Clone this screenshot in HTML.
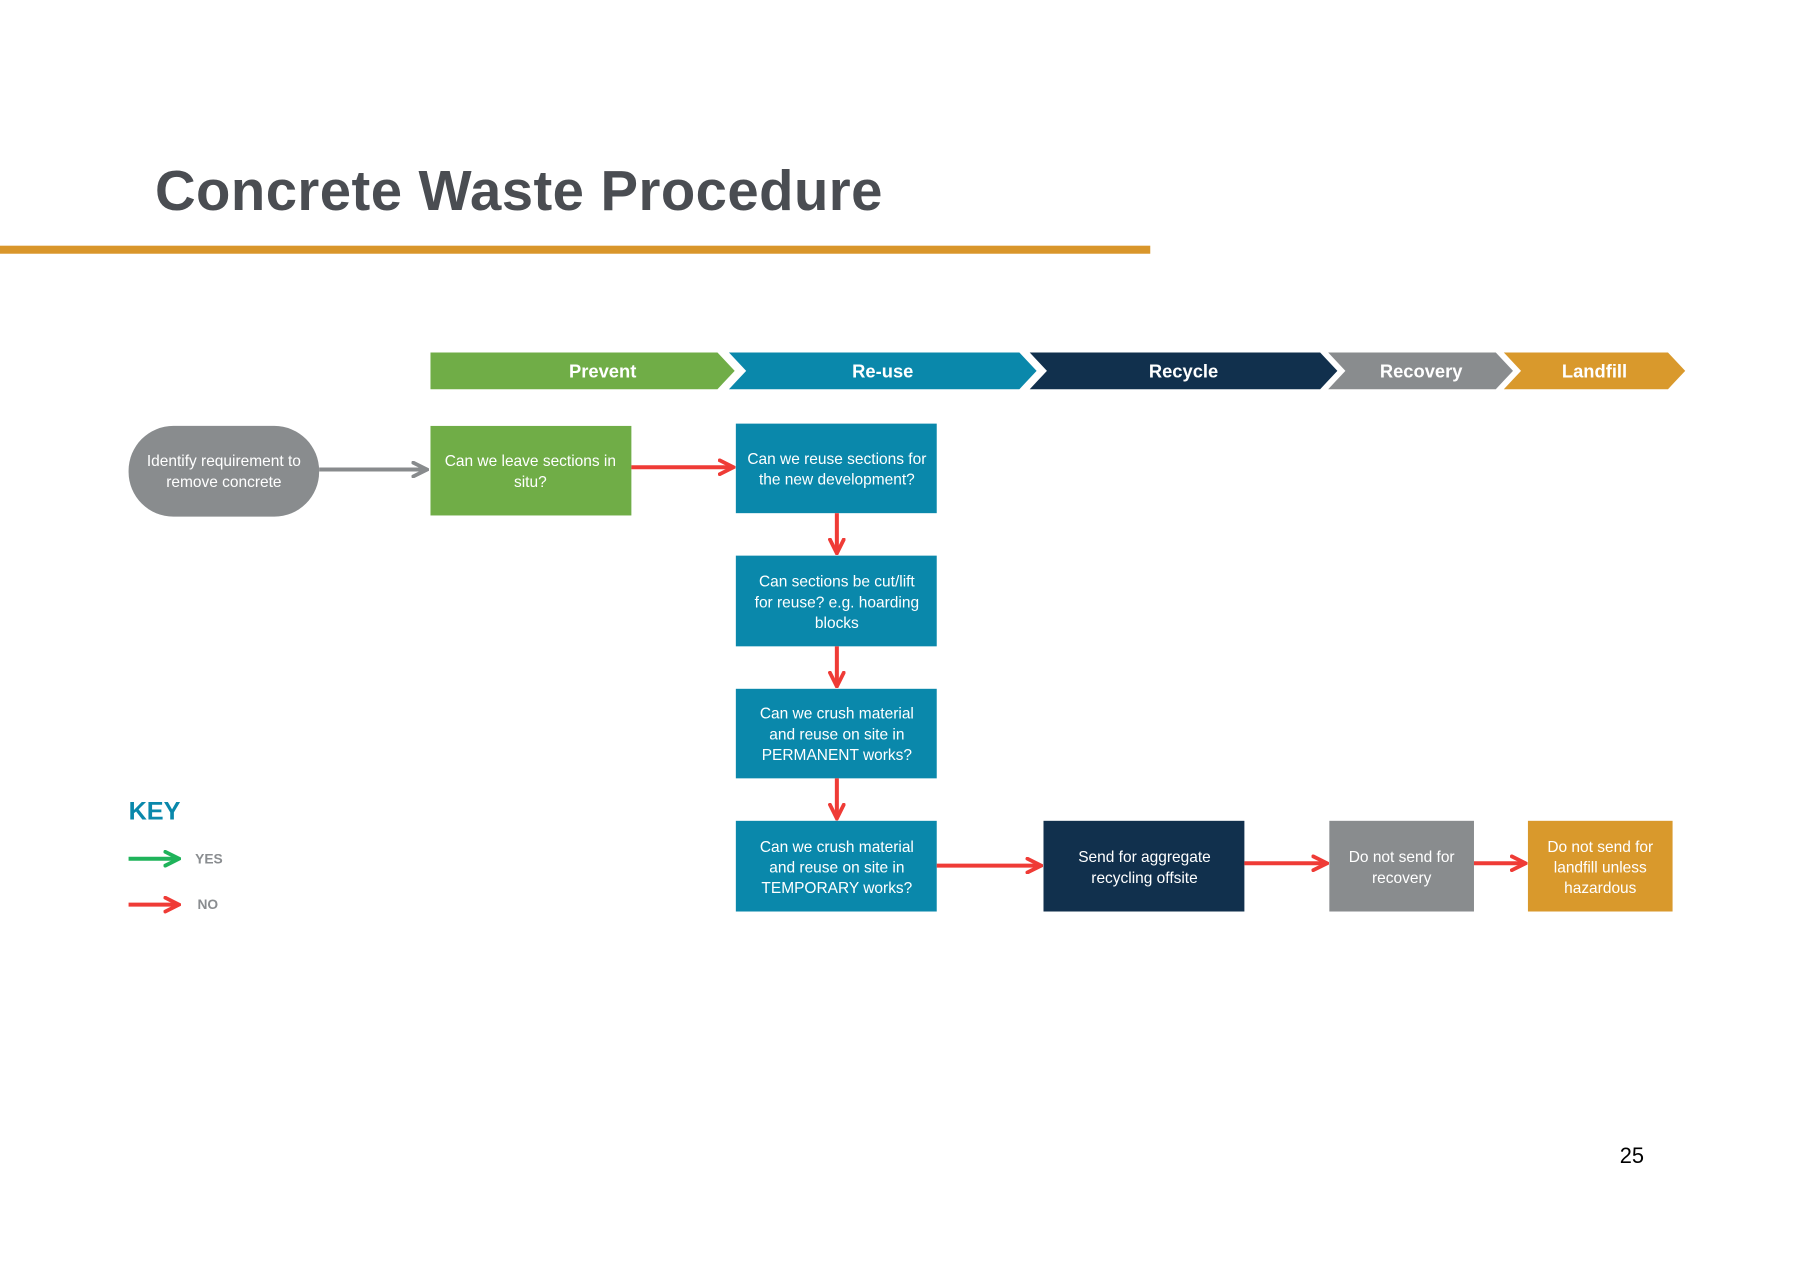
<!DOCTYPE html>
<html><head><meta charset="utf-8"><style>
html,body{margin:0;padding:0;background:#fff;}
svg{display:block;}
text{font-family:"Liberation Sans",sans-serif;}
</style></head><body>
<svg width="1800" height="1272" viewBox="0 0 1568 1108" xmlns="http://www.w3.org/2000/svg">
<defs>
<marker id="ar" viewBox="0 0 10 10" refX="9" refY="5" markerWidth="4.3" markerHeight="4.3" orient="auto"><path d="M1,1 L9,5 L1,9" fill="none" stroke="#ef3b36" stroke-width="2.2" stroke-linecap="round"/></marker>
<marker id="ag" viewBox="0 0 10 10" refX="9" refY="5" markerWidth="4.3" markerHeight="4.3" orient="auto"><path d="M1,1 L9,5 L1,9" fill="none" stroke="#888b8d" stroke-width="2.2" stroke-linecap="round"/></marker>
<marker id="agr" viewBox="0 0 10 10" refX="9" refY="5" markerWidth="4.3" markerHeight="4.3" orient="auto"><path d="M1,1 L9,5 L1,9" fill="none" stroke="#1fb35a" stroke-width="2.2" stroke-linecap="round"/></marker>
</defs>
<text x="135" y="183" font-size="49" font-weight="bold" fill="#4a4d52" letter-spacing="0.4">Concrete Waste Procedure</text>
<rect x="0" y="214" width="1002" height="7" fill="#d9962b"/>

<polygon points="375,307 625,307 640,323 625,339 375,339" fill="#70ad47"/>
<polygon points="635,307 888,307 903,323 888,339 635,339 650,323" fill="#0a88ab"/>
<polygon points="897,307 1150,307 1165,323 1150,339 897,339 912,323" fill="#11304d"/>
<polygon points="1157,307 1303,307 1318,323 1303,339 1157,339 1172,323" fill="#898c8e"/>
<polygon points="1310,307 1453,307 1468,323 1453,339 1310,339 1325,323" fill="#d9992c"/>
<g font-size="16" font-weight="bold" fill="#fff" text-anchor="middle">
<text x="525" y="329">Prevent</text>
<text x="769" y="329">Re-use</text>
<text x="1031" y="329">Recycle</text>
<text x="1238" y="329">Recovery</text>
<text x="1389" y="329">Landfill</text>
</g>

<rect x="112" y="371" width="166" height="79" rx="39" fill="#898c8e"/>
<rect x="375" y="371" width="175" height="78" fill="#70ad47"/>
<rect x="641" y="369" width="175" height="78" fill="#0a88ab"/>
<rect x="641" y="484" width="175" height="79" fill="#0a88ab"/>
<rect x="641" y="600" width="175" height="78" fill="#0a88ab"/>
<rect x="641" y="715" width="175" height="79" fill="#0a88ab"/>
<rect x="909" y="715" width="175" height="79" fill="#11304d"/>
<rect x="1158" y="715" width="126" height="79" fill="#898c8e"/>
<rect x="1331" y="715" width="126" height="79" fill="#d9992c"/>

<g font-size="13.5" fill="#fff" text-anchor="middle">
<text x="195" y="406">Identify requirement to</text><text x="195" y="424">remove concrete</text>
<text x="462" y="406">Can we leave sections in</text><text x="462" y="424">situ?</text>
<text x="729" y="404">Can we reuse sections for</text><text x="729" y="422">the new development?</text>
<text x="729" y="511">Can sections be cut/lift</text><text x="729" y="529">for reuse? e.g. hoarding</text><text x="729" y="547">blocks</text>
<text x="729" y="626">Can we crush material</text><text x="729" y="644">and reuse on site in</text><text x="729" y="662">PERMANENT works?</text>
<text x="729" y="742">Can we crush material</text><text x="729" y="760">and reuse on site in</text><text x="729" y="778">TEMPORARY works?</text>
<text x="997" y="751">Send for aggregate</text><text x="997" y="769">recycling offsite</text>
<text x="1221" y="751">Do not send for</text><text x="1221" y="769">recovery</text>
<text x="1394" y="742">Do not send for</text><text x="1394" y="760">landfill unless</text><text x="1394" y="778">hazardous</text>
</g>

<g stroke-width="3.5" fill="none">
<line x1="278" y1="409" x2="372" y2="409" stroke="#888b8d" marker-end="url(#ag)"/>
<line x1="550" y1="407" x2="639" y2="407" stroke="#ef3b36" marker-end="url(#ar)"/>
<line x1="729" y1="447" x2="729" y2="482" stroke="#ef3b36" marker-end="url(#ar)"/>
<line x1="729" y1="563" x2="729" y2="598" stroke="#ef3b36" marker-end="url(#ar)"/>
<line x1="729" y1="678" x2="729" y2="713" stroke="#ef3b36" marker-end="url(#ar)"/>
<line x1="816" y1="754" x2="907" y2="754" stroke="#ef3b36" marker-end="url(#ar)"/>
<line x1="1084" y1="752" x2="1156" y2="752" stroke="#ef3b36" marker-end="url(#ar)"/>
<line x1="1284" y1="752" x2="1329" y2="752" stroke="#ef3b36" marker-end="url(#ar)"/>
<line x1="112" y1="748" x2="156" y2="748" stroke="#1fb35a" marker-end="url(#agr)"/>
<line x1="112" y1="788" x2="156" y2="788" stroke="#ef3b36" marker-end="url(#ar)"/>
</g>
<text x="112" y="714" font-size="22" font-weight="bold" fill="#0a88ab">KEY</text>
<text x="170" y="752" font-size="12" font-weight="bold" fill="#8a8d90">YES</text>
<text x="172" y="792" font-size="12" font-weight="bold" fill="#8a8d90">NO</text>
<text x="1411" y="1013" font-size="19" fill="#000">25</text>
</svg>
</body></html>
